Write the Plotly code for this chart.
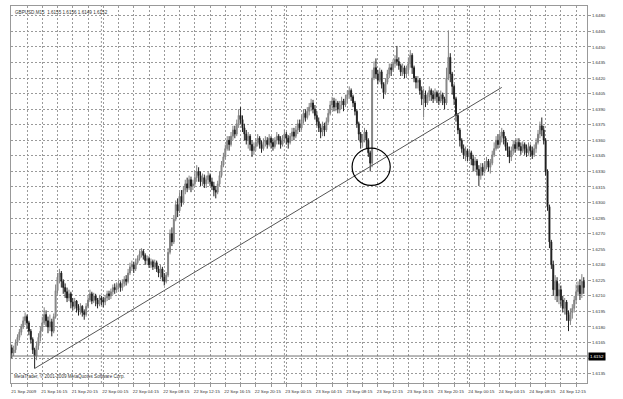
import pandas as pd
import plotly.graph_objects as go

# ---------------- data (GBPUSD M15, 21 Sep 2009 12:15 onward) ----------------
first_open = 1.6160
closes = [
 1.6155,1.6158,1.6165,1.6170,1.6175,1.6180,1.6186,1.6190,1.6184,1.6176,1.6168,1.6158,1.6152,1.6162,1.6170,1.6176,
 1.6184,1.6192,1.6186,1.6180,1.6185,1.6176,1.6190,1.6215,1.6228,1.6232,1.6224,1.6218,1.6214,1.6208,1.6212,1.6204,
 1.6200,1.6205,1.6198,1.6196,1.6200,1.6194,1.6192,1.6200,1.6206,1.6212,1.6205,1.6210,1.6206,1.6202,1.6208,1.6206,
 1.6204,1.6208,1.6212,1.6210,1.6214,1.6218,1.6216,1.6220,1.6222,1.6218,1.6222,1.6226,1.6224,1.6232,1.6238,1.6240,
 1.6236,1.6242,1.6246,1.6250,1.6253,1.6249,1.6244,1.6246,1.6240,1.6243,1.6238,1.6242,1.6236,1.6232,1.6236,1.6228,
 1.6224,1.6230,1.6252,1.6270,1.6262,1.6284,1.6298,1.6292,1.6306,1.6300,1.6312,1.6318,1.6314,1.6322,1.6316,1.6318,
 1.6324,1.6330,1.6326,1.6320,1.6324,1.6318,1.6322,1.6326,1.6320,1.6316,1.6312,1.6310,1.6318,1.6326,1.6336,1.6344,
 1.6352,1.6360,1.6356,1.6364,1.6370,1.6366,1.6376,1.6384,1.6380,1.6372,1.6366,1.6360,1.6364,1.6356,1.6350,1.6354,
 1.6358,1.6362,1.6356,1.6352,1.6358,1.6360,1.6356,1.6362,1.6358,1.6354,1.6360,1.6364,1.6360,1.6356,1.6362,1.6366,
 1.6362,1.6358,1.6364,1.6368,1.6364,1.6370,1.6376,1.6372,1.6380,1.6386,1.6382,1.6388,1.6392,1.6396,1.6390,1.6384,
 1.6378,1.6372,1.6368,1.6374,1.6370,1.6378,1.6386,1.6394,1.6398,1.6392,1.6396,1.6390,1.6394,1.6398,1.6394,1.6400,
 1.6404,1.6408,1.6402,1.6396,1.6388,1.6376,1.6366,1.6358,1.6362,1.6368,1.6360,1.6348,1.6338,1.6420,1.6430,1.6424,
 1.6418,1.6426,1.6414,1.6406,1.6416,1.6424,1.6430,1.6428,1.6434,1.6438,1.6436,1.6432,1.6426,1.6430,1.6424,1.6428,
 1.6434,1.6442,1.6430,1.6420,1.6416,1.6418,1.6408,1.6400,1.6404,1.6396,1.6402,1.6408,1.6404,1.6400,1.6406,1.6402,
 1.6398,1.6404,1.6400,1.6396,1.6420,1.6440,1.6424,1.6412,1.6400,1.6384,1.6370,1.6360,1.6352,1.6346,1.6350,1.6344,
 1.6348,1.6342,1.6336,1.6340,1.6332,1.6326,1.6334,1.6330,1.6336,1.6340,1.6334,1.6338,1.6346,1.6352,1.6360,1.6356,
 1.6364,1.6368,1.6362,1.6354,1.6350,1.6344,1.6350,1.6356,1.6352,1.6358,1.6354,1.6350,1.6356,1.6352,1.6348,1.6354,
 1.6350,1.6346,1.6352,1.6358,1.6366,1.6374,1.6370,1.6360,1.6330,1.6296,1.6262,1.6240,1.6216,1.6224,1.6210,1.6216,
 1.6206,1.6198,1.6204,1.6192,1.6186,1.6194,1.6198,1.6206,1.6214,1.6220,1.6212,1.6224,1.6218,
]
highs = [
 1.6163,1.6162,1.6168,1.6173,1.6178,1.6183,1.6190,1.6194,1.6192,1.6186,1.6178,1.6170,1.6160,1.6166,1.6174,1.6180,
 1.6190,1.6199,1.6196,1.6190,1.6192,1.6188,1.6193,1.6221,1.6232,1.6236,1.6234,1.6226,1.6222,1.6218,1.6216,1.6214,
 1.6208,1.6208,1.6206,1.6202,1.6203,1.6201,1.6197,1.6203,1.6210,1.6216,1.6214,1.6213,1.6212,1.6208,1.6211,1.6210,
 1.6209,1.6211,1.6215,1.6215,1.6217,1.6221,1.6222,1.6223,1.6225,1.6224,1.6226,1.6229,1.6230,1.6236,1.6242,1.6244,
 1.6243,1.6246,1.6249,1.6254,1.6256,1.6255,1.6251,1.6249,1.6248,1.6246,1.6245,1.6245,1.6244,1.6239,1.6240,1.6238,
 1.6232,1.6233,1.6256,1.6274,1.6276,1.6288,1.6302,1.6304,1.6310,1.6312,1.6316,1.6322,1.6324,1.6326,1.6325,1.6322,
 1.6330,1.6336,1.6334,1.6330,1.6328,1.6327,1.6326,1.6330,1.6328,1.6324,1.6320,1.6316,1.6321,1.6330,1.6340,1.6348,
 1.6356,1.6364,1.6364,1.6368,1.6374,1.6374,1.6380,1.6390,1.6392,1.6384,1.6376,1.6370,1.6368,1.6366,1.6360,1.6358,
 1.6362,1.6366,1.6364,1.6360,1.6362,1.6364,1.6363,1.6366,1.6364,1.6362,1.6363,1.6368,1.6366,1.6364,1.6365,1.6370,
 1.6368,1.6365,1.6367,1.6372,1.6372,1.6374,1.6380,1.6380,1.6384,1.6390,1.6390,1.6392,1.6396,1.6400,1.6399,1.6394,
 1.6388,1.6382,1.6376,1.6378,1.6377,1.6382,1.6390,1.6398,1.6402,1.6401,1.6400,1.6398,1.6398,1.6402,1.6400,1.6404,
 1.6408,1.6412,1.6410,1.6404,1.6398,1.6390,1.6378,1.6368,1.6366,1.6372,1.6370,1.6362,1.6350,1.6428,1.6436,1.6439,
 1.6428,1.6430,1.6428,1.6416,1.6420,1.6428,1.6434,1.6434,1.6438,1.6442,1.6451,1.6440,1.6434,1.6434,1.6432,1.6432,
 1.6440,1.6447,1.6444,1.6432,1.6422,1.6422,1.6420,1.6412,1.6410,1.6408,1.6406,1.6412,1.6410,1.6408,1.6410,1.6408,
 1.6406,1.6408,1.6406,1.6402,1.6430,1.6466,1.6444,1.6426,1.6414,1.6402,1.6386,1.6372,1.6362,1.6356,1.6354,1.6352,
 1.6352,1.6350,1.6346,1.6344,1.6342,1.6336,1.6338,1.6338,1.6340,1.6344,1.6342,1.6342,1.6350,1.6358,1.6364,1.6366,
 1.6368,1.6372,1.6370,1.6364,1.6358,1.6354,1.6354,1.6360,1.6360,1.6362,1.6362,1.6358,1.6359,1.6358,1.6356,1.6358,
 1.6356,1.6354,1.6356,1.6362,1.6370,1.6378,1.6382,1.6374,1.6362,1.6332,1.6298,1.6264,1.6244,1.6230,1.6228,1.6222,
 1.6220,1.6210,1.6208,1.6206,1.6196,1.6198,1.6202,1.6210,1.6221,1.6224,1.6226,1.6231,1.6228,
]
lows = [
 1.6150,1.6152,1.6155,1.6162,1.6167,1.6172,1.6178,1.6182,1.6178,1.6172,1.6164,1.6154,1.6140,1.6148,1.6158,1.6166,
 1.6176,1.6182,1.6180,1.6174,1.6176,1.6171,1.6174,1.6188,1.6212,1.6222,1.6218,1.6212,1.6208,1.6204,1.6205,1.6198,
 1.6196,1.6197,1.6194,1.6191,1.6192,1.6190,1.6187,1.6190,1.6198,1.6204,1.6202,1.6203,1.6200,1.6198,1.6200,1.6201,
 1.6199,1.6201,1.6205,1.6206,1.6207,1.6211,1.6212,1.6213,1.6216,1.6214,1.6215,1.6219,1.6220,1.6222,1.6230,1.6234,
 1.6232,1.6234,1.6240,1.6244,1.6247,1.6245,1.6240,1.6240,1.6237,1.6237,1.6235,1.6236,1.6233,1.6228,1.6226,1.6224,
 1.6220,1.6222,1.6228,1.6250,1.6258,1.6260,1.6282,1.6286,1.6290,1.6296,1.6298,1.6308,1.6310,1.6312,1.6310,1.6312,
 1.6316,1.6320,1.6320,1.6316,1.6316,1.6314,1.6314,1.6318,1.6316,1.6312,1.6306,1.6304,1.6308,1.6316,1.6324,1.6334,
 1.6342,1.6350,1.6350,1.6354,1.6360,1.6362,1.6364,1.6372,1.6376,1.6368,1.6360,1.6356,1.6352,1.6350,1.6344,1.6346,
 1.6350,1.6354,1.6352,1.6348,1.6350,1.6354,1.6352,1.6354,1.6352,1.6350,1.6352,1.6356,1.6356,1.6352,1.6354,1.6358,
 1.6356,1.6352,1.6356,1.6360,1.6360,1.6362,1.6366,1.6368,1.6370,1.6376,1.6378,1.6380,1.6384,1.6388,1.6386,1.6380,
 1.6374,1.6368,1.6362,1.6364,1.6364,1.6368,1.6376,1.6384,1.6390,1.6388,1.6388,1.6386,1.6386,1.6390,1.6388,1.6392,
 1.6396,1.6400,1.6398,1.6392,1.6384,1.6372,1.6360,1.6352,1.6354,1.6358,1.6352,1.6344,1.6330,1.6334,1.6418,1.6420,
 1.6414,1.6416,1.6410,1.6400,1.6404,1.6414,1.6420,1.6422,1.6426,1.6430,1.6432,1.6428,1.6422,1.6422,1.6420,1.6420,
 1.6424,1.6430,1.6424,1.6416,1.6410,1.6410,1.6404,1.6394,1.6382,1.6392,1.6394,1.6398,1.6398,1.6396,1.6398,1.6396,
 1.6394,1.6396,1.6394,1.6390,1.6394,1.6418,1.6416,1.6404,1.6394,1.6378,1.6366,1.6354,1.6348,1.6342,1.6340,1.6340,
 1.6340,1.6336,1.6330,1.6330,1.6326,1.6316,1.6322,1.6326,1.6328,1.6332,1.6330,1.6328,1.6336,1.6344,1.6350,1.6352,
 1.6354,1.6358,1.6356,1.6350,1.6344,1.6338,1.6340,1.6346,1.6348,1.6350,1.6350,1.6346,1.6348,1.6346,1.6344,1.6346,
 1.6344,1.6342,1.6344,1.6348,1.6356,1.6362,1.6364,1.6356,1.6326,1.6292,1.6256,1.6236,1.6210,1.6206,1.6204,1.6202,
 1.6200,1.6194,1.6192,1.6186,1.6176,1.6182,1.6188,1.6194,1.6202,1.6210,1.6206,1.6208,1.6212,
]
opens = [first_open] + closes[:-1]

start_time = "2009-09-21 12:15"
times = pd.date_range(start=start_time, periods=len(closes), freq="15min")

# axis ticks
x_tick_times = [
 "2009-09-21 12:15","2009-09-21 14:15","2009-09-21 16:15","2009-09-21 18:15","2009-09-21 20:15","2009-09-21 22:15",
 "2009-09-22 00:15","2009-09-22 02:15","2009-09-22 04:15","2009-09-22 06:15","2009-09-22 08:15","2009-09-22 10:15",
 "2009-09-22 12:15","2009-09-22 14:15","2009-09-22 16:15","2009-09-22 18:15","2009-09-22 20:15","2009-09-22 22:15",
 "2009-09-23 00:15","2009-09-23 02:15","2009-09-23 04:15","2009-09-23 06:15","2009-09-23 08:15","2009-09-23 10:15",
 "2009-09-23 12:15","2009-09-23 14:15","2009-09-23 16:15","2009-09-23 18:15","2009-09-23 20:15","2009-09-23 22:15",
 "2009-09-24 00:15","2009-09-24 02:15","2009-09-24 04:15","2009-09-24 06:15","2009-09-24 08:15","2009-09-24 10:15",
 "2009-09-24 12:15","2009-09-24 14:15",
]
x_tick_text = [
 "21 Sep 2009","","21 Sep 16:15","","21 Sep 20:15","",
 "22 Sep 00:15","","22 Sep 04:15","","22 Sep 08:15","",
 "22 Sep 12:15","","22 Sep 16:15","","22 Sep 20:15","",
 "23 Sep 00:15","","23 Sep 04:15","","23 Sep 08:15","",
 "23 Sep 12:15","","23 Sep 16:15","","23 Sep 20:15","",
 "24 Sep 00:15","","24 Sep 04:15","","24 Sep 08:15","",
 "24 Sep 12:15","",
]
y_tick_vals = [1.6135,1.6150,1.6165,1.6180,1.6195,1.6210,1.6225,1.6240,1.6255,1.6270,1.6285,1.6300,
               1.6315,1.6330,1.6345,1.6360,1.6375,1.6390,1.6405,1.6420,1.6435,1.6450,1.6465,1.6480]
y_tick_text = ["%.4f" % v for v in y_tick_vals]
y_range = [1.6126, 1.64895]

day_separators = ["2009-09-22 00:00", "2009-09-23 00:00", "2009-09-24 00:00"]

bid_price = 1.6152
header_text = "GBPUSD,M15  1.6155 1.6156 1.6149 1.6152"
copyright_text = "MetaTrader, \u00a9 2001-2009 MetaQuotes Software Corp."

trend_times = ["2009-09-21 15:15", "2009-09-24 04:30"]
trend_prices = [1.6140, 1.6411]

circle_center_time = "2009-09-23 11:22:30"
circle_center_price = 1.63345
circle_half_width = pd.Timedelta(minutes=150)
circle_half_height = 0.0018

# ---------------- figure ----------------
FONT = "Liberation Sans"
TXT = "#333333"
GRID = "#9a9a9a"

fig = go.Figure()
fig.add_trace(go.Candlestick(
    x=times, open=opens, high=highs, low=lows, close=closes,
    increasing=dict(line=dict(color="#808080", width=1), fillcolor="#a0a0a0"),
    decreasing=dict(line=dict(color="#202020", width=1), fillcolor="#000000"),
    whiskerwidth=0, showlegend=False, hoverinfo="skip",
))

bar = pd.Timedelta(minutes=15)
x_range = [times[0] - 0.4 * bar, times[-1] + 1.7 * bar]

shapes = []
for d in day_separators:
    shapes.append(dict(type="line", xref="x", yref="paper", x0=d, x1=d, y0=0, y1=1,
                       line=dict(color=GRID, width=1, dash="2px,2px"), layer="below"))
shapes.append(dict(type="line", xref="paper", yref="y", x0=0, x1=1, y0=bid_price, y1=bid_price,
                   line=dict(color="#707070", width=1)))
shapes.append(dict(type="line", xref="x", yref="y", x0=trend_times[0], y0=trend_prices[0],
                   x1=trend_times[1], y1=trend_prices[1], line=dict(color="#555555", width=1)))
cc = pd.Timestamp(circle_center_time)
shapes.append(dict(type="circle", xref="x", yref="y",
                   x0=cc - circle_half_width, x1=cc + circle_half_width,
                   y0=circle_center_price - circle_half_height, y1=circle_center_price + circle_half_height,
                   line=dict(color="#000000", width=1.2)))

annotations = [
    dict(text=header_text, xref="paper", yref="paper", x=0, y=1, xanchor="left", yanchor="top",
         xshift=2, yshift=-2, showarrow=False, font=dict(family=FONT, size=4.6, color=TXT)),
    dict(text=copyright_text, xref="paper", yref="paper", x=0, y=0, xanchor="left", yanchor="bottom",
         xshift=1, yshift=2, showarrow=False, font=dict(family=FONT, size=4.6, color=TXT)),
    dict(text="%.4f" % bid_price, xref="paper", yref="y", x=1, y=bid_price, xanchor="left",
         yanchor="middle", xshift=1, showarrow=False, bgcolor="#000000", borderpad=1,
         font=dict(family=FONT, size=4.4, color="#ffffff")),
]

fig.update_layout(
    width=623, height=399,
    margin=dict(l=11, r=36, t=5, b=12),
    paper_bgcolor="white", plot_bgcolor="white",
    shapes=shapes, annotations=annotations,
    xaxis=dict(
        type="date", range=x_range, rangeslider=dict(visible=False),
        tickmode="array", tickvals=x_tick_times, ticktext=x_tick_text,
        showgrid=True, gridcolor=GRID, griddash="2px,2px", gridwidth=1,
        showline=True, linecolor="#999999", linewidth=1, mirror=True,
        ticks="outside", ticklen=3, tickcolor="#999999",
        ticklabelshift=12, ticklabelstandoff=1,
        tickfont=dict(family=FONT, size=4.4, color=TXT),
        zeroline=False,
    ),
    yaxis=dict(
        side="right", range=y_range,
        tickmode="array", tickvals=y_tick_vals, ticktext=y_tick_text,
        showgrid=True, gridcolor=GRID, griddash="2px,2px", gridwidth=1,
        showline=True, linecolor="#999999", linewidth=1, mirror=True,
        ticks="outside", ticklen=3, tickcolor="#999999",
        tickfont=dict(family=FONT, size=4.4, color=TXT),
        zeroline=False,
    ),
)

fig.write_html("out.html")
